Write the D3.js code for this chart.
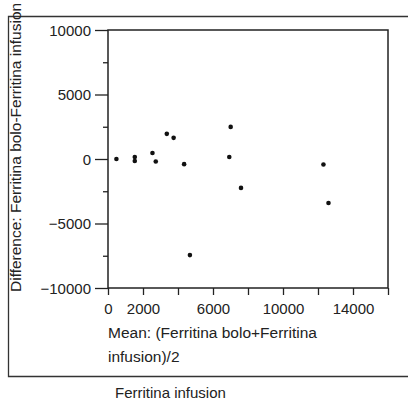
<!DOCTYPE html>
<html>
<head>
<meta charset="utf-8">
<script src="https://cdn.jsdelivr.net/npm/d3@7"></script>
<style>
  html, body { margin: 0; padding: 0; background: #fff; }
  svg { display: block; }
  text { font-family: "Liberation Sans", Arial, sans-serif; fill: #222; }
</style>
</head>
<body>
<svg id="chart" width="408" height="405"></svg>
<script>
// Data
const meanVals = [480, 1530, 1530, 2540, 2730, 3360, 3750, 4350, 4680, 6930, 7010, 7600, 12310, 12600];
const diffVals = [0, 160, -150, 470, -190, 1950, 1640, -400, -7450, 160, 2490, -2240, -430, -3410];
const xTicks = [0, 2000, 4000, 6000, 8000, 10000, 12000, 14000, 16000];
const xTickLabels = ["0", "2000", "", "6000", "", "10000", "", "14000", ""];
const yMajorTicks = [10000, 5000, 0, -5000, -10000];
const yMinorTicks = [7500, 2500, -2500, -7500];
const yTitle = "Difference: Ferritina bolo-Ferritina infusion";
const xTitleLines = ["Mean: (Ferritina bolo+Ferritina", "infusion)/2"];
const footerTitle = "Ferritina infusion";

const svg = d3.select("#chart");
const ink = "#222";
const L = 108, R = 388, T = 30, B = 288;

const x = d3.scaleLinear().domain([0, 16000]).range([L, R]);
const y = d3.scaleLinear().domain([-10000, 10000]).range([B, T]);

// outer frame (left, top, bottom)
svg.append("path")
  .attr("d", "M408,16.5 H8.5 V376.5 H408")
  .attr("fill", "none").attr("stroke", "#333").attr("stroke-width", 1.3);

// plot box
svg.append("rect")
  .attr("x", L).attr("y", T).attr("width", R - L).attr("height", B - T)
  .attr("fill", "none").attr("stroke", ink).attr("stroke-width", 1.5);

// y axis (major)
const yAxis = d3.axisLeft(y).tickValues(yMajorTicks).tickSize(13).tickPadding(4)
  .tickFormat(d => d3.format("d")(d));
const gy = svg.append("g").attr("transform", `translate(${L},0)`).call(yAxis);
gy.select(".domain").remove();
gy.selectAll("line").attr("stroke", ink).attr("stroke-width", 1.3);
gy.selectAll("text").attr("font-size", 15).attr("fill", ink)
  .attr("font-family", "Liberation Sans, Arial, sans-serif").attr("dy", "0.36em");

// y axis minor
const yAxisMinor = d3.axisLeft(y).tickValues(yMinorTicks).tickSize(5).tickFormat("");
const gym = svg.append("g").attr("transform", `translate(${L},0)`).call(yAxisMinor);
gym.select(".domain").remove();
gym.selectAll("line").attr("stroke", ink).attr("stroke-width", 1.3);

// x axis
const xAxis = d3.axisBottom(x).tickValues(xTicks).tickSize(7).tickPadding(8)
  .tickFormat((d, i) => xTickLabels[i]);
const gx = svg.append("g").attr("transform", `translate(0,${B})`).call(xAxis);
gx.select(".domain").remove();
gx.selectAll("line").attr("stroke", ink).attr("stroke-width", 1.3);
gx.selectAll("text").attr("font-size", 15).attr("fill", ink)
  .attr("font-family", "Liberation Sans, Arial, sans-serif");

// points
svg.append("g").selectAll("circle")
  .data(meanVals.map((m, i) => [m, diffVals[i]]))
  .join("circle")
  .attr("cx", d => x(d[0])).attr("cy", d => y(d[1]))
  .attr("r", 2.3).attr("fill", "#111");

// y title
svg.append("text")
  .attr("transform", "translate(21,292) rotate(-90)")
  .attr("font-size", 15.5).attr("text-anchor", "start")
  .text(yTitle);

// x title
svg.append("g").selectAll("text").data(xTitleLines).join("text")
  .attr("x", L).attr("y", (d, i) => 338 + i * 24)
  .attr("font-size", 15.5)
  .text(d => d);

// footer title
svg.append("text").attr("x", 115).attr("y", 398)
  .attr("font-size", 15).text(footerTitle);
</script>
</body>
</html>
